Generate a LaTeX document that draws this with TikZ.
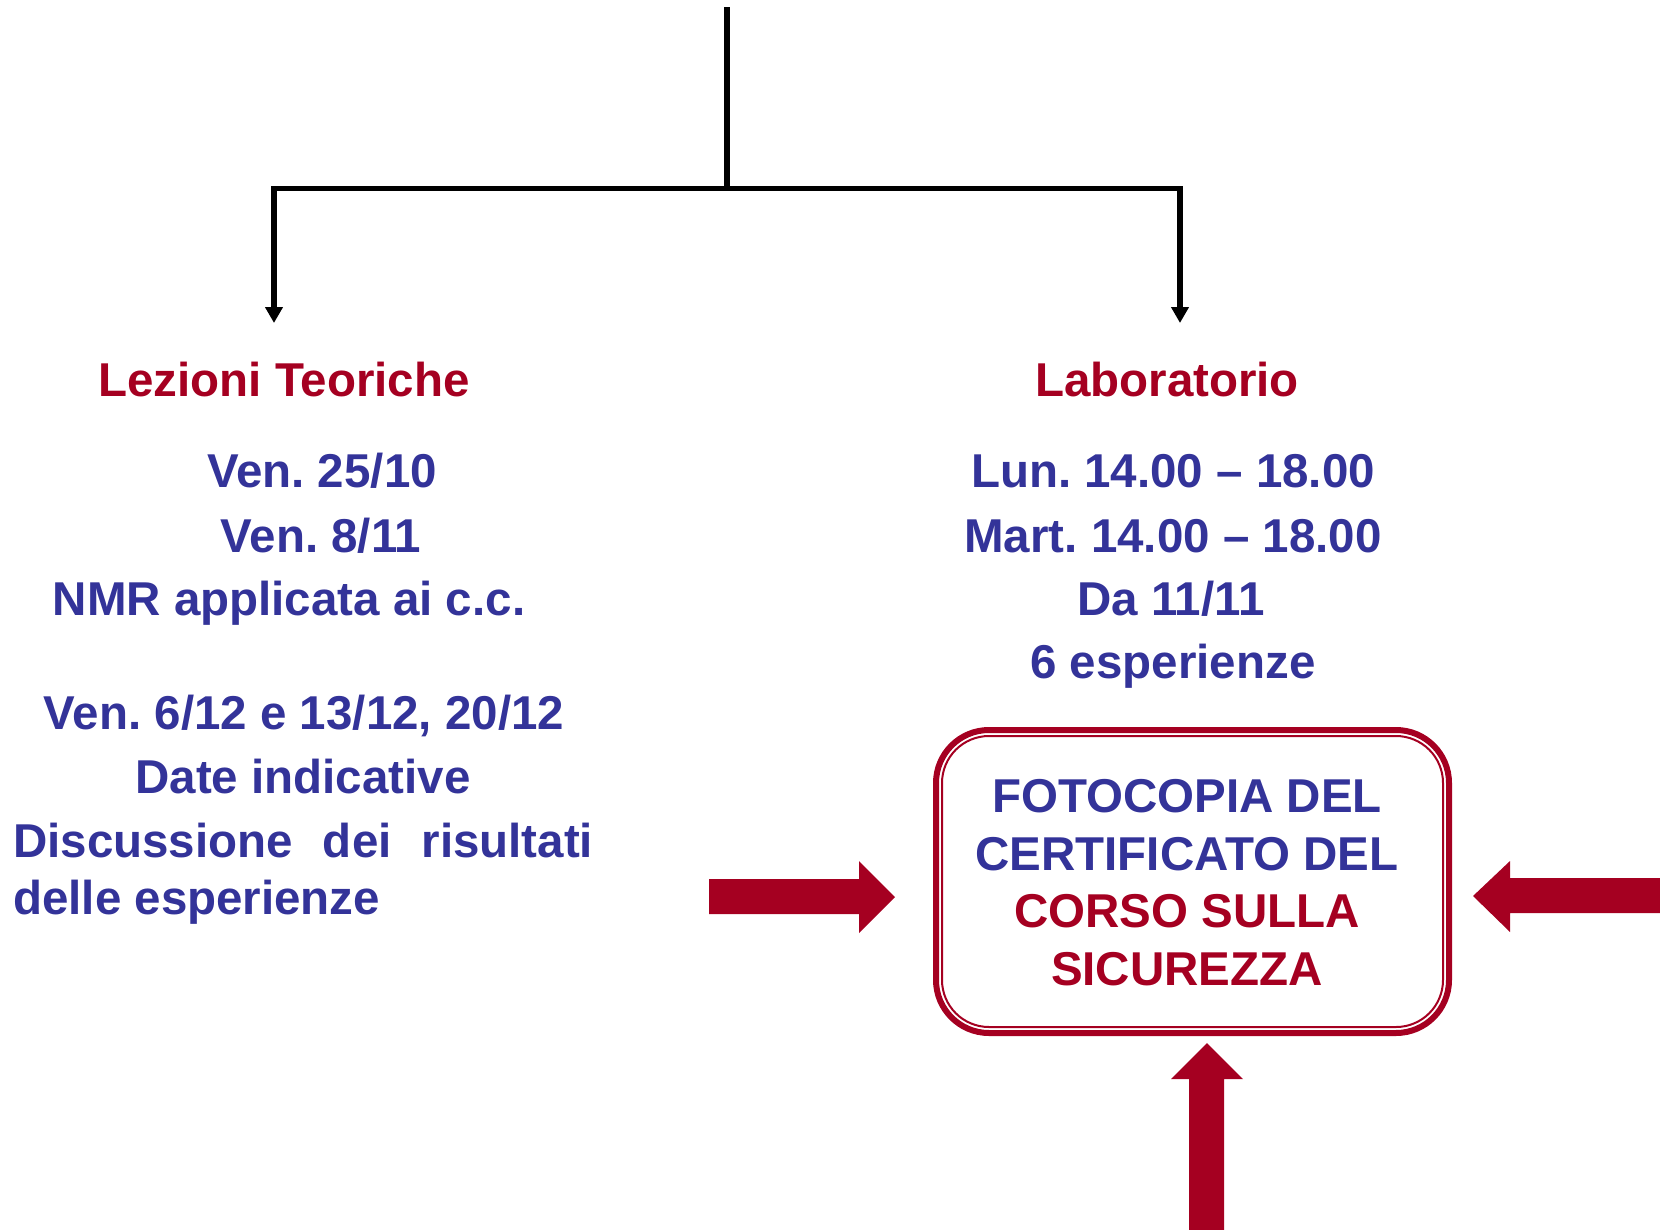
\documentclass[tikz,border=0pt]{standalone}
\usepackage{fontspec}
\setmainfont{Liberation Sans}
\usetikzlibrary{arrows.meta}
\definecolor{dkred}{RGB}{165,0,33}
\definecolor{dkblue}{RGB}{51,51,153}
\frenchspacing
\tikzset{
  heading/.style={anchor=base, inner sep=0pt, text=dkred, font=\bfseries\fontsize{47.5}{57}\selectfont},
  info/.style={heading, text=dkblue},
  branch/.style={line width=5.5pt, -{Triangle[width=17pt,length=16pt]}},
  bigarrow/.style={fill=dkred, draw=none},
}
\begin{document}
\begin{tikzpicture}[x=1pt, y=-1pt]
    \useasboundingbox (0,0) rectangle (1660,1229);
    % tree at the top
    \coordinate (root) at (727,7);
    \coordinate (fork) at (727,188.5);
    \coordinate (lefttip) at (274,323);
    \coordinate (righttip) at (1180,323);
    \draw[line width=5.5pt] (root) -- (fork);
    \draw[branch] (fork) -| (lefttip);
    \draw[branch] (fork) -| (righttip);
    % left column
    \node[heading] (lezioni) at (284,396) {Lezioni Teoriche};
    \node[info] (ven1) at (322,487) {Ven. 25/10};
    \node[info] (ven2) at (321,552) {Ven. 8/11};
    \node[info] (nmr) at (289,615) {NMR applicata ai c.c.};
    \node[info] (ven3) at (304,729) {Ven. 6/12 e 13/12, 20/12};
    \node[info] (date) at (303,793) {Date indicative};
    \node[info, anchor=base west] (disc) at (13,857) {\makebox[580pt][s]{Discussione dei risultati}};
    \node[info, anchor=base west] (delle) at (13,914) {delle esperienze};
    % right column
    \node[heading] (lab) at (1167,396) {Laboratorio};
    \node[info] (lun) at (1173,487) {Lun. 14.00 -- 18.00};
    \node[info] (mart) at (1173,552) {Mart. 14.00 -- 18.00};
    \node[info] (da) at (1171,615) {Da 11/11};
    \node[info] (esp) at (1173,678) {6 esperienze};
    % certificate box
    \node[draw=dkred, line width=6pt, rounded corners=53pt, minimum width=513pt, minimum height=303pt,
          inner sep=0pt, outer sep=0pt] (cert) at (1192.5,881.5) {};
    \draw[dkred, line width=2pt, rounded corners=47pt]
          ([shift={(6,6)}]cert.north west) rectangle ([shift={(-6,-6)}]cert.south east);
    \node[inner sep=0pt, align=center, text=dkblue, font=\bfseries\fontsize{47.5}{57.7}\selectfont]
          (certtext) at (1187,882.5)
          {FOTOCOPIA DEL\\CERTIFICATO DEL\\\textcolor{dkred}{CORSO SULLA}\\\textcolor{dkred}{SICUREZZA}};
    % block arrows
    \fill[bigarrow] (709,879) -- (859,879) -- (859,861) -- (895,897) -- (859,933) -- (859,914) -- (709,914) -- cycle;
    \fill[bigarrow] (1662,878) -- (1510,878) -- (1510,861) -- (1473,896) -- (1510,932) -- (1510,913) -- (1662,913) -- cycle;
    \fill[bigarrow] (1189,1231) -- (1189,1079) -- (1171,1079) -- (1207,1043) -- (1243,1079) -- (1224,1079) -- (1224,1231) -- cycle;
\end{tikzpicture}
\end{document}
